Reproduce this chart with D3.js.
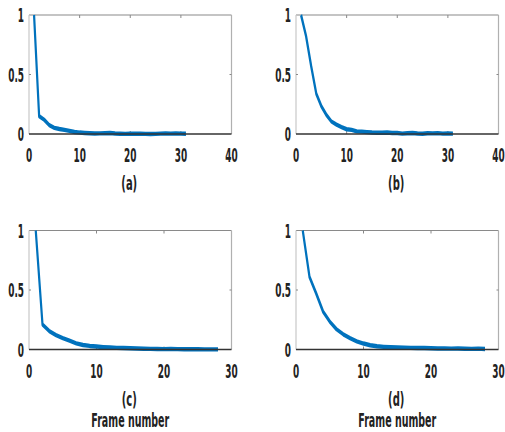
<!DOCTYPE html>
<html>
<head>
<meta charset="utf-8">
<script src="https://cdn.jsdelivr.net/npm/d3@7"></script>
<style>
  body { margin: 0; background: #fff; }
  svg text { font-family: "DejaVu Sans", sans-serif; font-weight: bold; fill: #222; }
</style>
</head>
<body>
<div id="visualization"></div>
<script>
// Curves (frames start at 1)
const seriesA = [1, 0.15, 0.12, 0.075, 0.052, 0.042, 0.035, 0.026, 0.017, 0.012, 0.009, 0.006, 0.004, 0.005, 0.006, 0.008, 0.004, 0.002, 0.001, 0.002, 0.003, 0.002, 0.001, 0.000, 0.001, 0.003, 0.004, 0.003, 0.004, 0.003, 0.002];
const seriesB = [1, 0.82, 0.57, 0.34, 0.235, 0.16, 0.105, 0.078, 0.058, 0.04, 0.035, 0.022, 0.02, 0.016, 0.012, 0.01, 0.01, 0.012, 0.009, 0.008, 0.003, 0.006, 0.008, 0.004, 0.002, 0.006, 0.005, 0.007, 0.003, 0.004, 0.003];
const seriesC = [1, 0.21, 0.155, 0.12, 0.095, 0.074, 0.052, 0.038, 0.03, 0.025, 0.02, 0.017, 0.014, 0.012, 0.01, 0.008, 0.006, 0.005, 0.004, 0.003, 0.004, 0.003, 0.002, 0.002, 0.002, 0.001, 0.001, 0.001];
const seriesD = [1, 0.61, 0.47, 0.32, 0.235, 0.17, 0.128, 0.095, 0.068, 0.05, 0.036, 0.027, 0.022, 0.019, 0.018, 0.016, 0.014, 0.012, 0.012, 0.01, 0.009, 0.008, 0.007, 0.009, 0.006, 0.005, 0.007, 0.004];

const panelLabels = ["(a)", "(b)", "(c)", "(d)"];
const xMaxes = [40, 40, 30, 30];
const yTicks = [0, 0.5, 1];
const xTicksTop = [0, 10, 20, 30, 40];
const xTicksBottom = [0, 10, 20, 30];
const xLabel = "Frame number";

const panels = [
  {data: seriesA, left: 29, top: 15, xMax: xMaxes[0], ticks: xTicksTop, label: panelLabels[0], xTitle: false},
  {data: seriesB, left: 296, top: 15, xMax: xMaxes[1], ticks: xTicksTop, label: panelLabels[1], xTitle: false},
  {data: seriesC, left: 29, top: 230.5, xMax: xMaxes[2], ticks: xTicksBottom, label: panelLabels[2], xTitle: true},
  {data: seriesD, left: 296, top: 230.5, xMax: xMaxes[3], ticks: xTicksBottom, label: panelLabels[3], xTitle: true}
];

const W = 505, H = 432;
const pw = 202.5, ph = 119;
const squeeze = 0.5;     // picture is squeezed sideways: thin vertical strokes, narrow text
const blue = "#0072BD";

const svg = d3.select("#visualization").append("svg")
    .attr("width", W)
    .attr("height", H);

function label(g, x, y, txt, size, sx, anchor) {
  g.append("text")
    .attr("transform", `translate(${x},${y}) scale(${sx},1)`)
    .attr("text-anchor", anchor)
    .style("font-size", size + "px")
    .text(txt);
}

panels.forEach(p => {
  const g = svg.append("g").attr("transform", `translate(${p.left},${p.top})`);

  const x = d3.scaleLinear().domain([0, p.xMax]).range([0, pw]);
  const y = d3.scaleLinear().domain([0, 1]).range([ph, 0]);

  // box: grey top/right/left, dark bottom
  g.append("line").attr("x1", 0).attr("x2", pw).attr("y1", 0).attr("y2", 0)
    .attr("stroke", "#8a8a8a").attr("stroke-width", 1.2);
  g.append("line").attr("x1", pw).attr("x2", pw).attr("y1", 0).attr("y2", ph)
    .attr("stroke", "#b0b0b0").attr("stroke-width", 1.2);
  g.append("line").attr("x1", 0).attr("x2", 0).attr("y1", 0).attr("y2", ph)
    .attr("stroke", "#c8c8c8").attr("stroke-width", 1.2);

  // inner ticks
  p.ticks.slice(1, -1).forEach(t => {
    g.append("line").attr("x1", x(t)).attr("x2", x(t)).attr("y1", 0).attr("y2", 3)
      .attr("stroke", "#888").attr("stroke-width", 1);
    g.append("line").attr("x1", x(t)).attr("x2", x(t)).attr("y1", ph).attr("y2", ph - 3)
      .attr("stroke", "#888").attr("stroke-width", 1);
  });
  yTicks.slice(1, -1).forEach(t => {
    g.append("line").attr("x1", 0).attr("x2", 2).attr("y1", y(t)).attr("y2", y(t))
      .attr("stroke", "#888").attr("stroke-width", 1);
    g.append("line").attr("x1", pw).attr("x2", pw - 2).attr("y1", y(t)).attr("y2", y(t))
      .attr("stroke", "#888").attr("stroke-width", 1);
  });

  // curve drawn in a sideways-stretched frame, then squeezed back
  const xs = d3.scaleLinear().domain([0, p.xMax]).range([0, pw / squeeze]);
  const line = d3.line()
    .x((d, i) => xs(i + 1))
    .y(d => y(d));
  g.append("g").attr("transform", `scale(${squeeze},1)`)
    .append("path")
    .datum(p.data)
    .attr("fill", "none")
    .attr("stroke", blue)
    .attr("stroke-width", 4.4)
    .attr("stroke-linejoin", "round")
    .attr("d", line);

  g.append("line").attr("x1", 0).attr("x2", pw).attr("y1", ph).attr("y2", ph)
    .attr("stroke", "#333").attr("stroke-width", 1.3);

  // tick labels
  p.ticks.forEach(t => label(g, x(t), ph + 28, String(t), 19, 0.47, "middle"));
  yTicks.forEach(t => label(g, -5, y(t) + 7, String(t), 19, 0.47, "end"));

  label(g, pw / 2 - 1, ph + 56, p.label, 20, 0.5, "middle");
  if (p.xTitle) label(g, pw / 2, ph + 77, xLabel, 19, 0.5, "middle");
});
</script>
</body>
</html>
